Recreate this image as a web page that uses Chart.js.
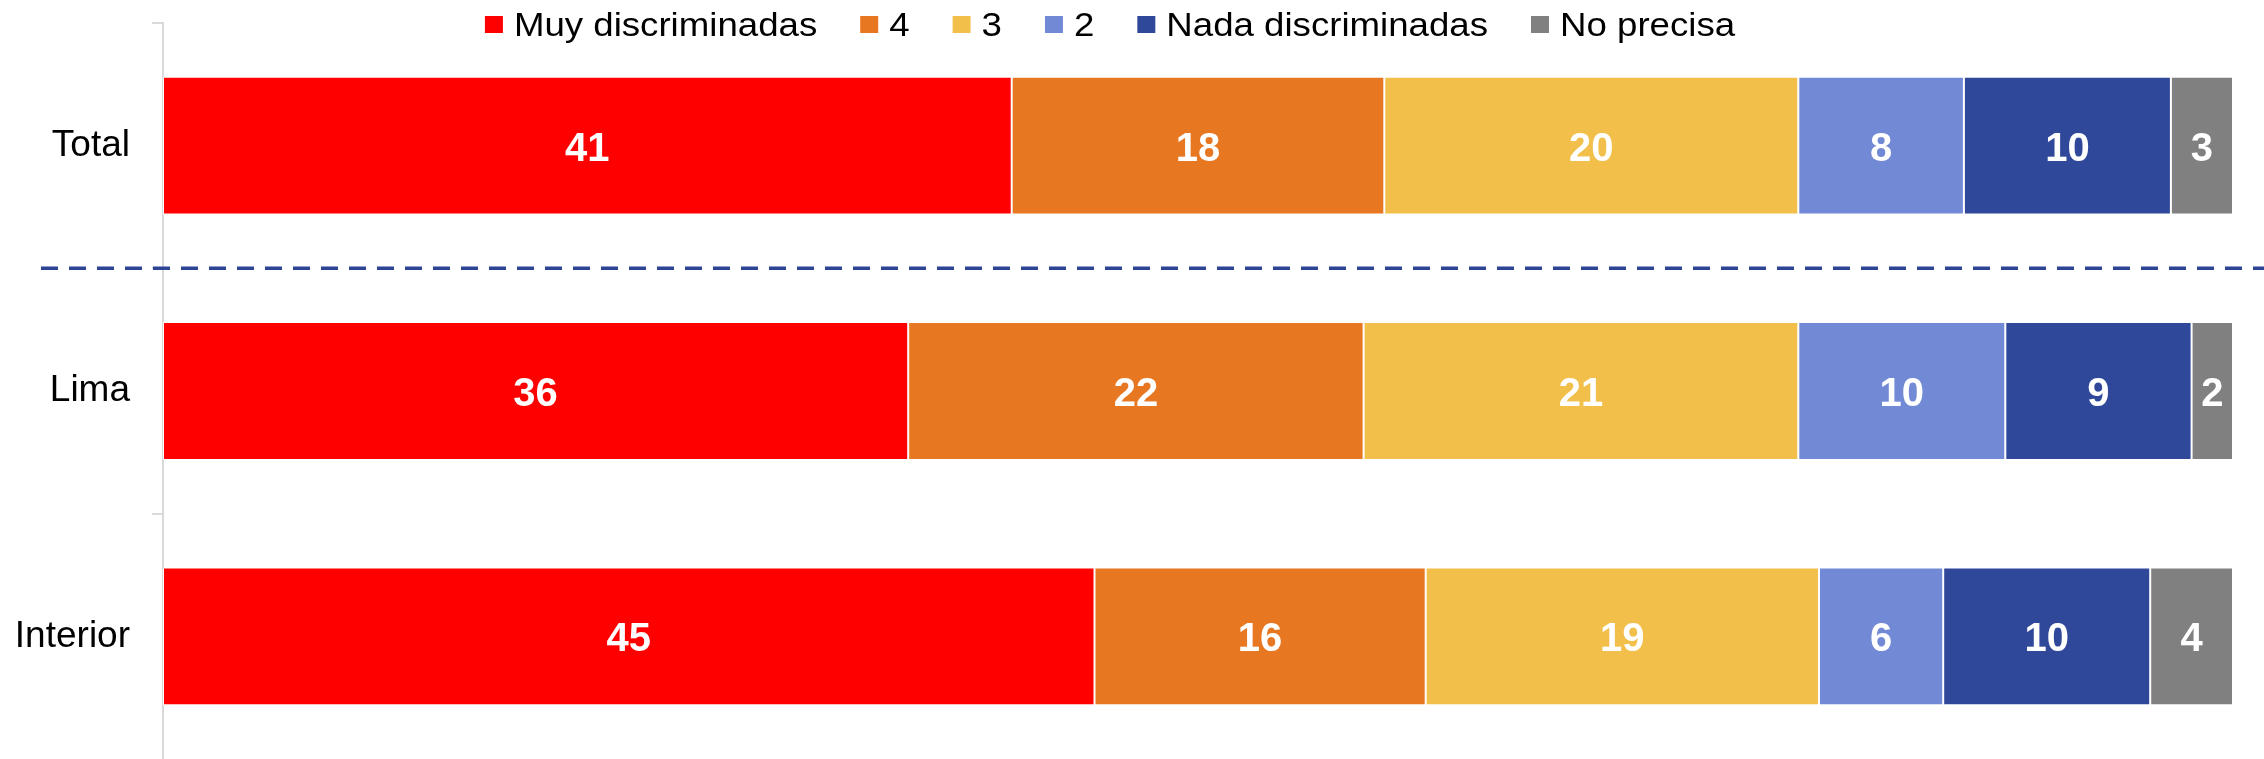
<!DOCTYPE html>
<html>
<head>
<meta charset="utf-8">
<script src="https://cdn.jsdelivr.net/npm/chart.js@4/dist/chart.umd.min.js"></script>
<style>
    html, body { margin: 0; padding: 0; background: #fff; }
    #wrap { width: 2264px; height: 759px; position: relative; }
</style>
</head>
<body>
<div id="wrap"><canvas id="discriminacionChart"></canvas></div>
<script>
const categories = ['Total', 'Lima', 'Interior'];
const seriesNames = ['Muy discriminadas', '4', '3', '2', 'Nada discriminadas', 'No precisa'];
const muyDiscriminadas = [41, 36, 45];
const nivel4 = [18, 22, 16];
const nivel3 = [20, 21, 19];
const nivel2 = [8, 10, 6];
const nadaDiscriminadas = [10, 9, 10];
const noPrecisa = [3, 2, 4];
const colors = ['#FF0000', '#E87722', '#F2BF4A', '#7289D6', '#30489A', '#808080'];

const FONT = "'Liberation Sans', Arial, sans-serif";

// white numbers centered in every segment
const segmentLabels = {
    id: 'segmentLabels',
    afterDatasetsDraw(chart) {
        const ctx = chart.ctx;
        ctx.save();
        ctx.font = 'bold 40px ' + FONT;
        ctx.fillStyle = '#fff';
        ctx.textAlign = 'center';
        ctx.textBaseline = 'alphabetic';
        chart.data.datasets.forEach((ds, i) => {
            const meta = chart.getDatasetMeta(i);
            meta.data.forEach((bar, j) => {
                const cx = (bar.x + bar.base) / 2;
                ctx.fillText(String(ds.data[j]), cx, bar.y + 15);
            });
        });
        ctx.restore();
    }
};

// dashed separator between Total and the regions
const separator = {
    id: 'separator',
    afterDraw(chart) {
        const y = chart.scales.y.getPixelForValue(0.5);
        const ctx = chart.ctx;
        ctx.save();
        ctx.strokeStyle = '#2E4596';
        ctx.lineWidth = 3.5;
        ctx.setLineDash([17, 11]);
        ctx.beginPath();
        ctx.moveTo(41, y);
        ctx.lineTo(chart.width, y);
        ctx.stroke();
        ctx.restore();
    }
};

// legend row drawn at the top, slightly stretched text like the original
const topLegend = {
    id: 'topLegend',
    afterDraw(chart) {
        const ctx = chart.ctx;
        const size = 33, stretch = 1.11, box = 18, boxGap = 11, itemGap = 43;
        ctx.save();
        ctx.font = size + 'px ' + FONT;
        const items = chart.data.datasets.map(ds => ({
            text: ds.label,
            color: ds.backgroundColor,
            w: ctx.measureText(ds.label).width * stretch
        }));
        const total = items.reduce((s, it) => s + box + boxGap + it.w, 0) + itemGap * (items.length - 1);
        let x = 1110 - total / 2;
        items.forEach(it => {
            ctx.fillStyle = it.color;
            ctx.fillRect(x, 16, box, 17);
            ctx.save();
            ctx.translate(x + box + boxGap, 36);
            ctx.scale(stretch, 1);
            ctx.fillStyle = '#000';
            ctx.textBaseline = 'alphabetic';
            ctx.fillText(it.text, 0, 0);
            ctx.restore();
            x += box + boxGap + it.w + itemGap;
        });
        ctx.restore();
    }
};

const seriesData = [muyDiscriminadas, nivel4, nivel3, nivel2, nadaDiscriminadas, noPrecisa];

new Chart(document.getElementById('discriminacionChart'), {
    type: 'bar',
    data: {
        labels: categories,
        datasets: seriesNames.map((name, i) => ({
            label: name,
            data: seriesData[i],
            backgroundColor: colors[i],
            borderColor: '#fff',
            borderWidth: 1,
            borderSkipped: false,
            barPercentage: 0.562,
            categoryPercentage: 1
        }))
    },
    options: {
        indexAxis: 'y',
        responsive: true,
        maintainAspectRatio: false,
        animation: false,
        devicePixelRatio: 1,
        layout: { padding: { top: 23, right: 31, bottom: 0, left: 0 } },
        plugins: {
            legend: { display: false },
            tooltip: { enabled: false }
        },
        scales: {
            x: {
                stacked: true,
                min: 0,
                max: 100,
                display: false
            },
            y: {
                stacked: true,
                afterFit(scale) {
                    scale.width = 163;
                    scale.paddingTop = 0;
                    scale.paddingBottom = 0;
                },
                grid: {
                    offset: true,
                    drawOnChartArea: false,
                    tickLength: 11,
                    // the last boundary (bottom edge) gets a scale context, hide that one
                    color: c => c.type === 'tick' ? '#D9D9D9' : 'rgba(0,0,0,0)',
                    lineWidth: 2
                },
                border: { display: true, color: '#D9D9D9', width: 2 },
                ticks: {
                    padding: 22,
                    color: '#000',
                    font: { family: FONT, size: 37 }
                }
            }
        }
    },
    plugins: [segmentLabels, separator, topLegend]
});
</script>
</body>
</html>
